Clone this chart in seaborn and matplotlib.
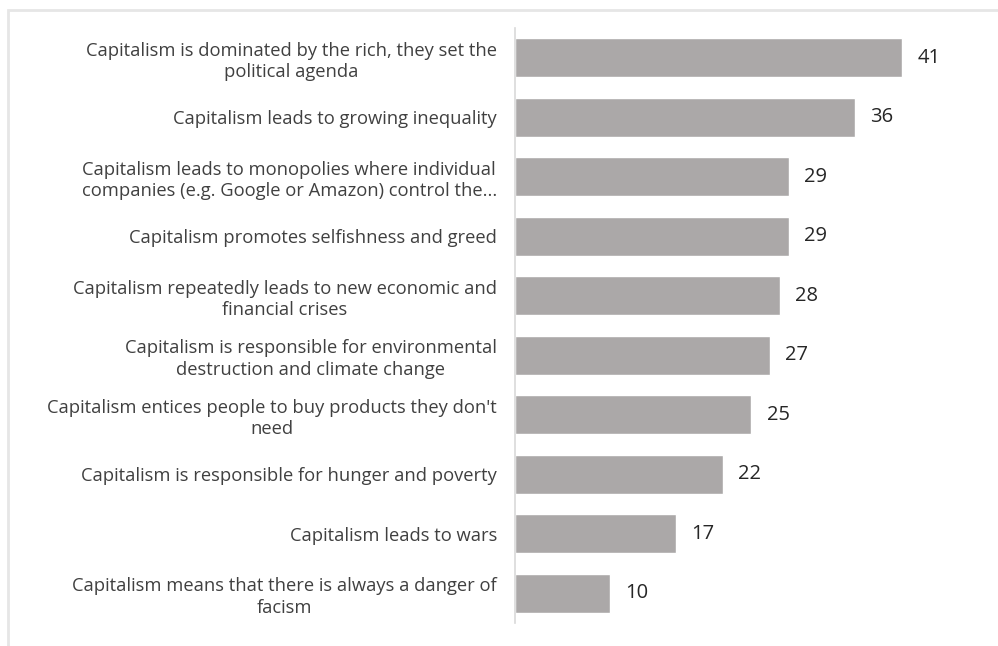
import matplotlib
matplotlib.use('Agg')
import matplotlib.pyplot as plt
import seaborn as sns
import pandas as pd
from matplotlib.patches import Rectangle

# data
statements = [
    'Capitalism is dominated by the rich, they set the\npolitical agenda',
    'Capitalism leads to growing inequality',
    'Capitalism leads to monopolies where individual\ncompanies (e.g. Google or Amazon) control the...',
    'Capitalism promotes selfishness and greed',
    'Capitalism repeatedly leads to new economic and\nfinancial crises',
    'Capitalism is responsible for environmental\ndestruction and climate change',
    "Capitalism entices people to buy products they don't\nneed",
    'Capitalism is responsible for hunger and poverty',
    'Capitalism leads to wars',
    'Capitalism means that there is always a danger of\nfacism',
]
percent = [41, 36, 29, 29, 28, 27, 25, 22, 17, 10]

df = pd.DataFrame({'statement': statements, 'percent': percent})

sns.set_style('white')
plt.rcParams['font.family'] = ['Open Sans', 'DejaVu Sans']

fig = plt.figure(figsize=(9.98, 6.46), dpi=100)
ax = fig.add_axes([515 / 998, 1 - 623 / 646, (985 - 515) / 998, (623 - 28) / 646])

sns.barplot(data=df, x='percent', y='statement', orient='h', color='#aba8a8',
            width=0.655, saturation=1, ax=ax)

ax.set_xlim(0, (985 - 515) / 9.45)
ax.set_ylim(len(statements) - 0.5, -0.5)
ax.set_xlabel('')
ax.set_ylabel('')
ax.set_xticks([])
ax.tick_params(axis='y', length=0, pad=13)
for lbl in ax.get_yticklabels():
    lbl.set_fontsize(13.2)
    lbl.set_color('#404040')
    lbl.set_multialignment('center')
    lbl.set_linespacing(1.25)

for side in ['top', 'right', 'bottom']:
    ax.spines[side].set_visible(False)
ax.spines['left'].set_color('#d9d9d9')
ax.spines['left'].set_linewidth(1.2)

# value labels
for i, v in enumerate(percent):
    ax.annotate(str(v), (v, i), xytext=(11, 0), textcoords='offset points',
                va='center', ha='left', fontsize=14.5, color='#262626')

# light frame around the chart area
fig.patches.append(Rectangle((8 / 998, -0.1), 1.2, 1 - 10 / 646 + 0.1,
                             transform=fig.transFigure, fill=False,
                             edgecolor='#e6e6e6', linewidth=2))

fig.savefig('out.png', dpi=100)
